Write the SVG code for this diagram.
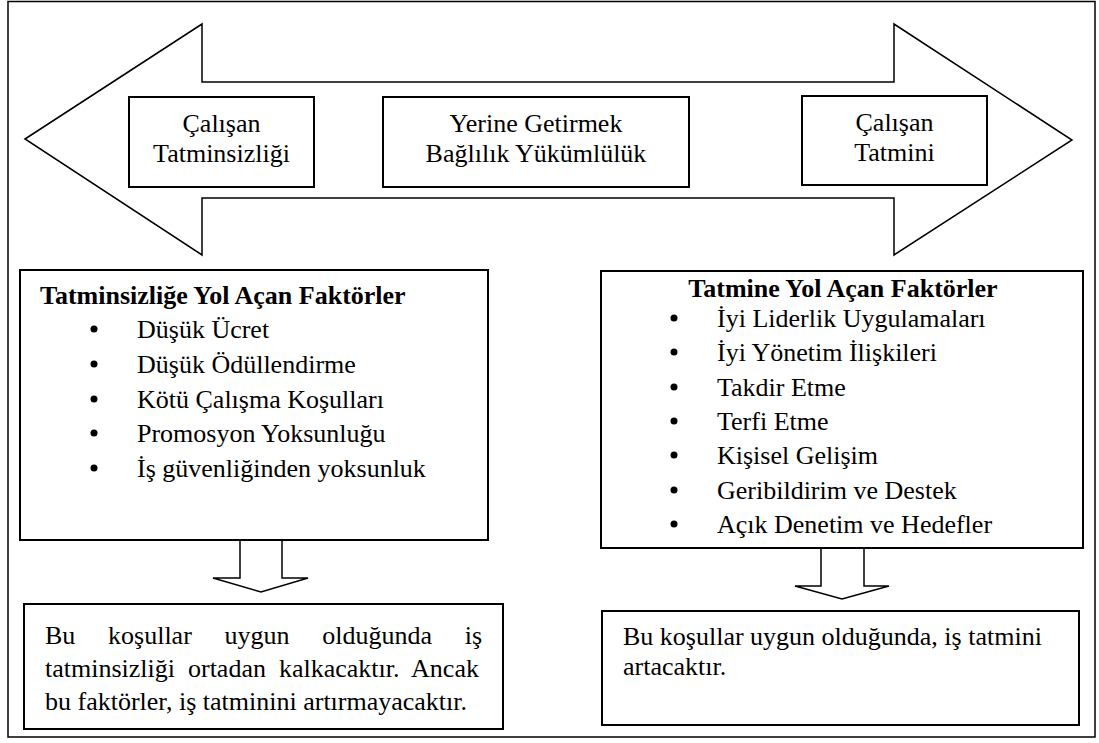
<svg xmlns="http://www.w3.org/2000/svg" width="1099" height="743" viewBox="0 0 1099 743">
<defs>
<circle id="dot" r="3.5" fill="#000"/>
</defs>
<rect width="1099" height="743" fill="#fff"/>
<rect x="8" y="1.5" width="1087" height="735.5" fill="none" stroke="#000" stroke-width="1.5"/>
<g id="connectors" fill="#fff" stroke="#000" stroke-width="1.5">
<polygon points="25,139 202,24 202,82 894,82 894,24 1072,140 894,255 894,198 202,198 202,255"/>
<polygon points="240,540 282,540 282,578 308,578 261,592 213,578 240,578"/>
<polygon points="821,548 864,548 864,586 889,586 842,599 795,586 821,586"/>
</g>
<g font-family="Liberation Serif" font-size="26" fill="#000">
<g id="n1">
<rect x="129" y="97" width="185" height="90" fill="#fff" stroke="#000" stroke-width="2"/>
<text x="221.5" y="132" text-anchor="middle">Çalışan</text>
<text x="221.5" y="162" text-anchor="middle">Tatminsizliği</text>
</g>
<g id="n2">
<rect x="383" y="97" width="306" height="90" fill="#fff" stroke="#000" stroke-width="2"/>
<text x="536" y="132" text-anchor="middle">Yerine Getirmek</text>
<text x="536" y="162" text-anchor="middle">Bağlılık Yükümlülük</text>
</g>
<g id="n3">
<rect x="802" y="96" width="185" height="89" fill="#fff" stroke="#000" stroke-width="2"/>
<text x="894.5" y="131" text-anchor="middle">Çalışan</text>
<text x="894.5" y="161" text-anchor="middle">Tatmini</text>
</g>
<g id="n4">
<rect x="20" y="270" width="468" height="270" fill="#fff" stroke="#000" stroke-width="2"/>
<text x="40" y="304" font-weight="bold">Tatminsizliğe Yol Açan Faktörler</text>
<use href="#dot" x="94" y="329"/><text x="137" y="338">Düşük Ücret</text>
<use href="#dot" x="94" y="364"/><text x="137" y="373">Düşük Ödüllendirme</text>
<use href="#dot" x="94" y="399"/><text x="137" y="408">Kötü Çalışma Koşulları</text>
<use href="#dot" x="94" y="433"/><text x="137" y="442">Promosyon Yoksunluğu</text>
<use href="#dot" x="94" y="468"/><text x="137" y="477">İş güvenliğinden yoksunluk</text>
</g>
<g id="n5">
<rect x="601" y="271" width="482" height="277" fill="#fff" stroke="#000" stroke-width="2"/>
<text x="843" y="297" font-weight="bold" text-anchor="middle">Tatmine Yol Açan Faktörler</text>
<use href="#dot" x="674" y="318"/><text x="717" y="327">İyi Liderlik Uygulamaları</text>
<use href="#dot" x="674" y="352"/><text x="717" y="361">İyi Yönetim İlişkileri</text>
<use href="#dot" x="674" y="387"/><text x="717" y="396">Takdir Etme</text>
<use href="#dot" x="674" y="421"/><text x="717" y="430">Terfi Etme</text>
<use href="#dot" x="674" y="455"/><text x="717" y="464">Kişisel Gelişim</text>
<use href="#dot" x="674" y="490"/><text x="717" y="499">Geribildirim ve Destek</text>
<use href="#dot" x="674" y="524"/><text x="717" y="533">Açık Denetim ve Hedefler</text>
</g>
<g id="n6">
<rect x="24" y="604" width="479" height="125" fill="#fff" stroke="#000" stroke-width="2"/>
<text x="45" y="644" word-spacing="26.2">Bu koşullar uygun olduğunda iş</text>
<text x="45" y="677" word-spacing="6.5">tatminsizliği ortadan kalkacaktır. Ancak</text>
<text x="45" y="710">bu faktörler, iş tatminini artırmayacaktır.</text>
</g>
<g id="n7">
<rect x="602" y="611" width="477" height="114" fill="#fff" stroke="#000" stroke-width="2"/>
<text x="623" y="645">Bu koşullar uygun olduğunda, iş tatmini</text>
<text x="623" y="675">artacaktır.</text>
</g>
</g>
</svg>
